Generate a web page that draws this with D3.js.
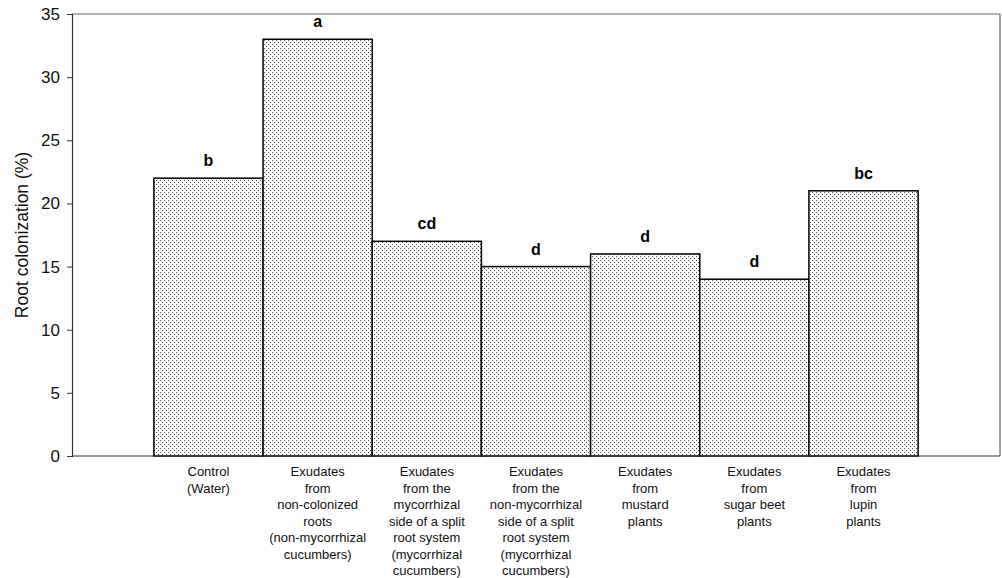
<!DOCTYPE html>
<html>
<head>
<meta charset="utf-8">
<script src="https://cdn.jsdelivr.net/npm/d3@7"></script>
<style>
  body { margin: 0; background: #fff; }
  svg { font-family: Arial, "Liberation Sans", sans-serif; }
</style>
</head>
<body>
<svg id="chart" width="1002" height="578"></svg>
<script>
// categories (multi-line labels)
const categories = [
  ['Control', '(Water)'],
  ['Exudates', 'from', 'non-colonized', 'roots', '(non-mycorrhizal', 'cucumbers)'],
  ['Exudates', 'from the', 'mycorrhizal', 'side of a split', 'root system', '(mycorrhizal', 'cucumbers)'],
  ['Exudates', 'from the', 'non-mycorrhizal', 'side of a split', 'root system', '(mycorrhizal', 'cucumbers)'],
  ['Exudates', 'from', 'mustard', 'plants'],
  ['Exudates', 'from', 'sugar beet', 'plants'],
  ['Exudates', 'from', 'lupin', 'plants']
]
// root colonization values (%)
const values = [22, 33, 17, 15, 16, 14, 21]
// significance letters
const letters = ['b', 'a', 'cd', 'd', 'd', 'd', 'bc']
const yTicks = [0, 5, 10, 15, 20, 25, 30, 35]

function makeChart() {
  const svg = d3.select('#chart')
  const plotLeft = 72, plotRight = 1000, plotTop = 14, plotBottom = 456

  // dotted fill pattern
  const defs = svg.append('defs')
  const pat = defs.append('pattern')
    .attr('id', 'dots')
    .attr('patternUnits', 'userSpaceOnUse')
    .attr('width', 4).attr('height', 4)
  pat.append('rect').attr('width', 4).attr('height', 4).attr('fill', '#fff')
  pat.append('rect').attr('x', 0).attr('y', 0).attr('width', 1).attr('height', 1).attr('fill', '#444')
  pat.append('rect').attr('x', 2).attr('y', 2).attr('width', 1).attr('height', 1).attr('fill', '#444')

  const x = d3.scaleBand()
    .domain(d3.range(categories.length))
    .range([plotLeft, plotRight])
    .paddingInner(0)
    .paddingOuter(0.75)

  const y = d3.scaleLinear()
    .domain([0, 35])
    .range([plotBottom, plotTop])

  // frame (top and right)
  svg.append('path')
    .attr('d', `M${plotLeft},${plotTop}H${plotRight}V${plotBottom}`)
    .attr('fill', 'none')
    .attr('stroke', '#666')
    .attr('stroke-width', 1.2)

  // bars
  svg.selectAll('rect.bar')
    .data(values)
    .join('rect')
    .attr('class', 'bar')
    .attr('x', (d, i) => x(i))
    .attr('y', d => y(d))
    .attr('width', x.bandwidth())
    .attr('height', d => y(0) - y(d))
    .attr('fill', 'url(#dots)')
    .attr('stroke', '#000')
    .attr('stroke-width', 1.5)

  // letters above bars
  svg.selectAll('text.letter')
    .data(values)
    .join('text')
    .attr('class', 'letter')
    .attr('x', (d, i) => x(i) + x.bandwidth() / 2)
    .attr('y', d => y(d) - 12)
    .attr('text-anchor', 'middle')
    .attr('font-size', 16)
    .attr('font-weight', 'bold')
    .text((d, i) => letters[i])

  // y axis
  const yAxis = svg.append('g')
    .attr('transform', `translate(${plotLeft},0)`)
    .call(d3.axisLeft(y).tickValues(yTicks).tickSize(5).tickPadding(7))
  yAxis.select('.domain').attr('stroke', '#333').attr('stroke-width', 1.2)
  yAxis.selectAll('.tick line').attr('stroke', '#333')
  yAxis.selectAll('.tick text')
    .attr('font-size', 17)
    .attr('font-family', 'Arial, "Liberation Sans", sans-serif')
    .attr('fill', '#111')

  // x axis line
  svg.append('line')
    .attr('x1', plotLeft).attr('x2', plotRight)
    .attr('y1', y(0)).attr('y2', y(0))
    .attr('stroke', '#333')
    .attr('stroke-width', 1.2)

  // category labels
  const labels = svg.selectAll('text.cat')
    .data(categories)
    .join('text')
    .attr('class', 'cat')
    .attr('text-anchor', 'middle')
    .attr('font-size', 13)
    .attr('fill', '#111')
  labels.selectAll('tspan')
    .data((d, i) => d.map(line => ({ line, i })))
    .join('tspan')
    .attr('x', d => x(d.i) + x.bandwidth() / 2)
    .attr('y', (d, j) => plotBottom + 20 + j * 16.5)
    .text(d => d.line)

  // y axis title
  svg.append('text')
    .attr('transform', `translate(28,${(plotTop + plotBottom) / 2}) rotate(-90)`)
    .attr('text-anchor', 'middle')
    .attr('font-size', 17.5)
    .attr('fill', '#111')
    .text('Root colonization (%)')
}

makeChart()
</script>
</body>
</html>
